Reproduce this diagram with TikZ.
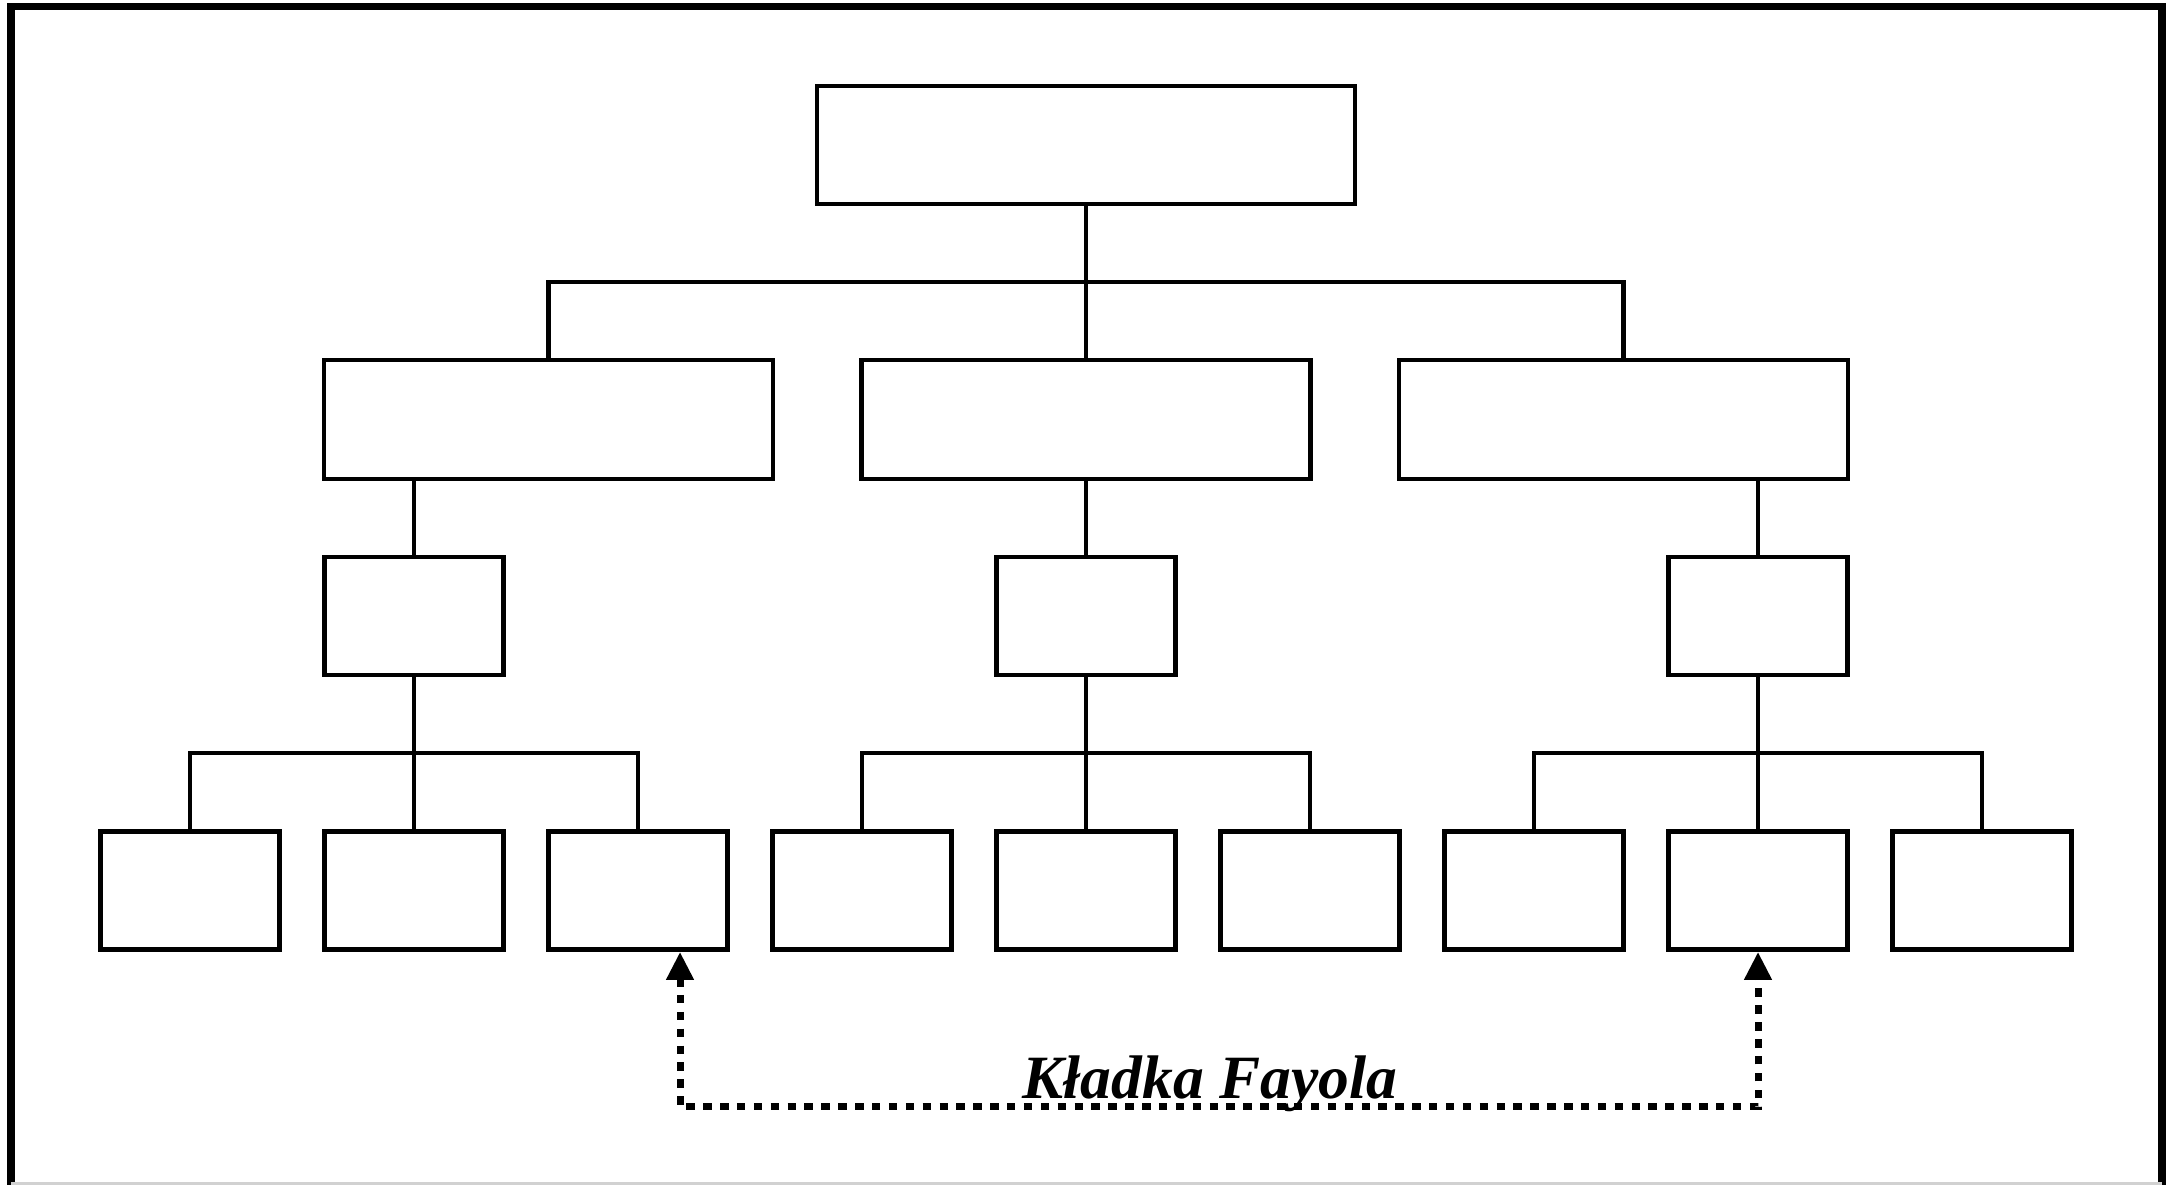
\documentclass[tikz,border=0pt]{standalone}
\usepackage{fontspec}
\setmainfont{Liberation Serif}
\usetikzlibrary{arrows.meta,calc}

\tikzset{
  unit/.style={draw=black, line width=1.3pt, fill=white, rectangle, inner sep=0pt},
  topbox/.style={unit, minimum width=5.38cm, minimum height=1.18cm},
  widebox/.style={unit, minimum width=4.49cm, minimum height=1.19cm},
  smallbox/.style={unit, minimum width=1.79cm, minimum height=1.18cm},
  link/.style={draw=black, line width=1.2pt},
  bridge/.style={draw=black, line width=2pt, dash pattern=on 2.4pt off 2.4pt,
    {Triangle[length=0.28cm, width=0.26cm]}-{Triangle[length=0.28cm, width=0.26cm]}},
  framepart/.style={draw=black, line width=2.2pt},
  label/.style={font=\fontsize{17.5pt}{20pt}\selectfont\bfseries\itshape, inner sep=0pt}
}

\begin{document}
\begin{tikzpicture}[x=0.01cm, y=-0.01cm]
  \useasboundingbox (0,0) rectangle (2172,1185);

  % outer frame
  \draw[framepart] (11,1185) -- (11,6.5) -- (2162,6.5) -- (2162,1185);
  \draw[draw=black!18, line width=0.9pt] (11,1183.5) -- (2162,1183.5);

  % top level
  \node[topbox] (top) at (1086,145) {};

  % second level
  \node[widebox] (m1) at (548.5,419.5) {};
  \node[widebox] (m2) at (1086,419.5) {};
  \node[widebox] (m3) at (1623.5,419.5) {};

  % third level
  \node[smallbox] (s1) at (414,616) {};
  \node[smallbox] (s2) at (1086,616) {};
  \node[smallbox] (s3) at (1758,616) {};

  % bottom level
  \foreach \i in {1,...,9} {
    \node[smallbox] (b\i) at ({190+224*(\i-1)},890.5) {};
  }

  % connectors: top -> second level
  \draw[link] (top.south) -- (m2.north);
  \draw[link] (m1.north) |- ($(top.south)!0.5!(m2.north)$) -| (m3.north);

  % connectors: second -> third level
  \draw[link] (s1.north) -- (s1.north |- m1.south);
  \draw[link] (s2.north) -- (m2.south);
  \draw[link] (s3.north) -- (s3.north |- m3.south);

  % connectors: third -> bottom level
  \draw[link] (s1.south) -- (b2.north);
  \draw[link] (b1.north) |- ($(s1.south)!0.5!(b2.north)$) -| (b3.north);
  \draw[link] (s2.south) -- (b5.north);
  \draw[link] (b4.north) |- ($(s2.south)!0.5!(b5.north)$) -| (b6.north);
  \draw[link] (s3.south) -- (b8.north);
  \draw[link] (b7.north) |- ($(s3.south)!0.5!(b8.north)$) -| (b9.north);

  % Fayol's bridge
  \coordinate (bl) at ([xshift=0.42cm]b3.south);
  \draw[bridge] (bl) -- ++(0,155) -| (b8.south);
  \node[label, anchor=base] (fayol) at (1210,1098) {Kładka Fayola};
\end{tikzpicture}
\end{document}
